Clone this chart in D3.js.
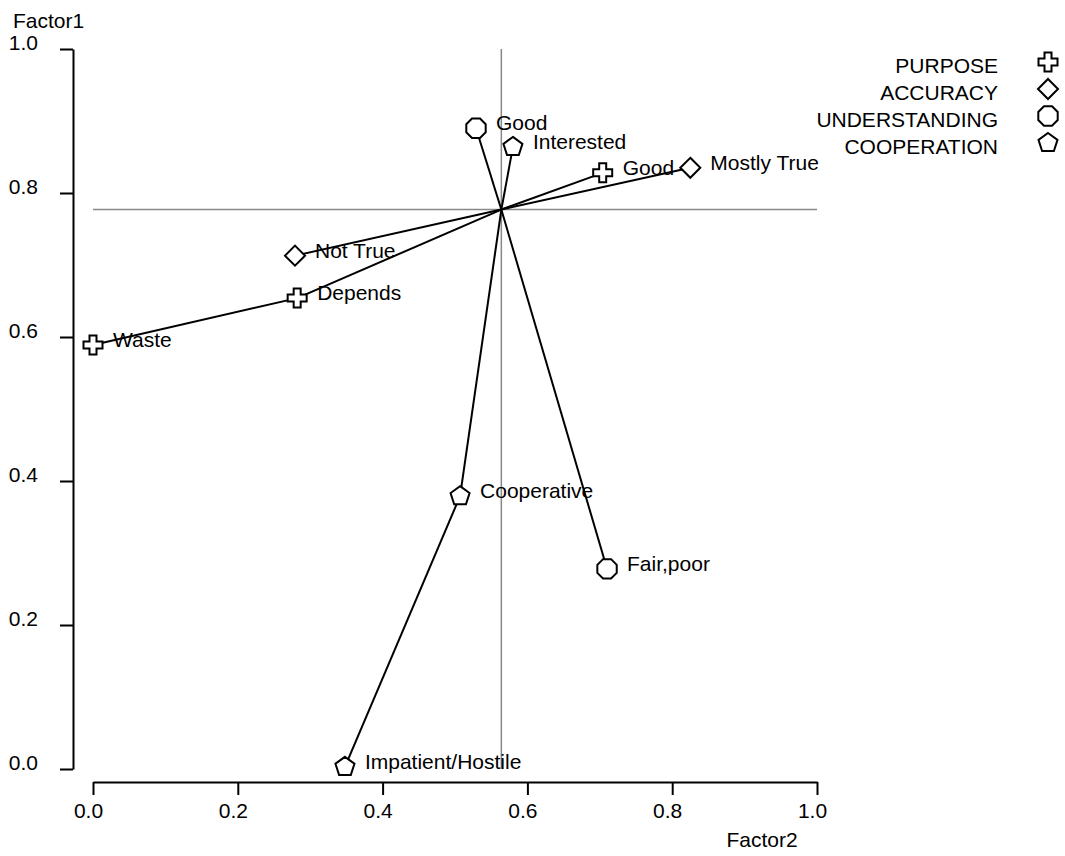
<!DOCTYPE html>
<html lang="en">
<head>
    <meta charset="UTF-8">
    <title>Factor1 vs Factor2</title>
    <script src="https://d3js.org/d3.v7.min.js"></script>
    <style>
        body { margin: 0; background: #fff; }
        text { font-family: "Liberation Sans", Arial, sans-serif; font-size: 21px; fill: #000; }
        .axis path, .axis line { stroke: #000; stroke-width: 2px; }
        .ref { stroke: #888; stroke-width: 1.5px; }
        .link { stroke: #000; stroke-width: 2px; fill: none; }
        .marker { fill: #fff; stroke: #000; stroke-width: 2px; }
    </style>
</head>
<body>
    <div id="chart"></div>
    <script>
        // Variables (legend order) and their marker shapes
        const variables = ["PURPOSE", "ACCURACY", "UNDERSTANDING", "COOPERATION"];
        const shapes = ["cross", "diamond", "octagon", "pentagon"];

        // Category points: label, variable, Factor2 (x), Factor1 (y)
        const labels    = ["Waste", "Depends", "Good", "Not True", "Mostly True", "Good", "Fair,poor", "Interested", "Cooperative", "Impatient/Hostile"];
        const groups    = ["PURPOSE", "PURPOSE", "PURPOSE", "ACCURACY", "ACCURACY", "UNDERSTANDING", "UNDERSTANDING", "COOPERATION", "COOPERATION", "COOPERATION"];
        const factor2   = [0.000, 0.282, 0.704, 0.279, 0.825, 0.529, 0.710, 0.580, 0.507, 0.348];
        const factor1   = [0.589, 0.654, 0.828, 0.713, 0.835, 0.890, 0.278, 0.864, 0.379, 0.003];
        // Each point is joined to the centre ("c") or to another category (index)
        const joinedTo  = [1, "c", "c", "c", "c", "c", "c", "c", "c", 8];

        // Centre (reference lines)
        const centre = { x: 0.564, y: 0.777 };

        const ticks = [0, 0.2, 0.4, 0.6, 0.8, 1.0];

        const width = 1065, height = 856;
        const svg = d3.select("#chart").append("svg")
            .attr("width", width)
            .attr("height", height);

        const x = d3.scaleLinear().domain([0, 1]).range([93, 817]);
        const y = d3.scaleLinear().domain([0, 1]).range([769, 49]);

        // Marker shape paths
        function shapePath(name) {
            if (name === "cross") {
                const a = 3.5, b = 9.5;
                return `M${-a},${-b}H${a}V${-a}H${b}V${a}H${a}V${b}H${-a}V${a}H${-b}V${-a}H${-a}Z`;
            }
            if (name === "diamond") {
                const r = 10;
                return `M0,${-r}L${r},0L0,${r}L${-r},0Z`;
            }
            const n = name === "octagon" ? 8 : 5;
            const r = name === "octagon" ? 10.5 : 10;
            const off = name === "octagon" ? Math.PI / 8 : 0;
            const pts = d3.range(n).map(i => {
                const ang = off + i * 2 * Math.PI / n;
                return [r * Math.sin(ang), -r * Math.cos(ang)];
            });
            return "M" + pts.map(p => p.join(",")).join("L") + "Z";
        }
        const shapeOf = g => shapes[variables.indexOf(g)];

        // Axes
        const yAxis = svg.append("g")
            .attr("class", "axis")
            .attr("transform", "translate(73,0)")
            .call(d3.axisLeft(y).tickValues(ticks).tickFormat(d3.format(".1f"))
                .tickSize(13).tickSizeOuter(0).tickPadding(22));
        yAxis.selectAll("text").attr("dy", "0em");

        const xAxis = svg.append("g")
            .attr("class", "axis")
            .attr("transform", "translate(0,782)")
            .call(d3.axisBottom(x).tickValues(ticks).tickFormat(d3.format(".1f"))
                .tickSize(13).tickSizeOuter(0).tickPadding(8));
        xAxis.selectAll("text").attr("x", -5);
        svg.selectAll(".axis text").style("font-family", "Liberation Sans, Arial, sans-serif").style("font-size", "21px");

        svg.append("text").attr("x", 13).attr("y", 28).text("Factor1");
        svg.append("text").attr("x", 762).attr("y", 847).attr("text-anchor", "middle").text("Factor2");

        // Reference lines
        svg.append("line").attr("class", "ref")
            .attr("x1", x(centre.x)).attr("x2", x(centre.x))
            .attr("y1", y(1)).attr("y2", y(0));
        svg.append("line").attr("class", "ref")
            .attr("x1", x(0)).attr("x2", x(1))
            .attr("y1", y(centre.y)).attr("y2", y(centre.y));

        const points = labels.map((l, i) => ({ label: l, group: groups[i], fx: factor2[i], fy: factor1[i] }));

        // Joining lines
        svg.append("g").selectAll("line")
            .data(points)
            .enter().append("line")
            .attr("class", "link")
            .attr("x1", (d, i) => joinedTo[i] === "c" ? x(centre.x) : x(points[joinedTo[i]].fx))
            .attr("y1", (d, i) => joinedTo[i] === "c" ? y(centre.y) : y(points[joinedTo[i]].fy))
            .attr("x2", d => x(d.fx)).attr("y2", d => y(d.fy));

        // Markers
        svg.append("g").selectAll("path")
            .data(points)
            .enter().append("path")
            .attr("class", "marker")
            .attr("transform", d => `translate(${x(d.fx)},${y(d.fy)})`)
            .attr("d", d => shapePath(shapeOf(d.group)));

        // Labels
        svg.append("g").selectAll("text")
            .data(points)
            .enter().append("text")
            .attr("x", d => x(d.fx) + 20)
            .attr("y", d => y(d.fy) + 2)
            .text(d => d.label);

        // Legend
        const legend = svg.append("g").selectAll("g")
            .data(variables)
            .enter().append("g")
            .attr("transform", (d, i) => `translate(0,${73 + i * 27})`);
        legend.append("text")
            .attr("x", 998)
            .attr("text-anchor", "end")
            .text(d => d);
        legend.append("path")
            .attr("class", "marker")
            .attr("transform", "translate(1048,-11)")
            .attr("d", (d, i) => shapePath(shapes[i]));
    </script>
</body>
</html>
